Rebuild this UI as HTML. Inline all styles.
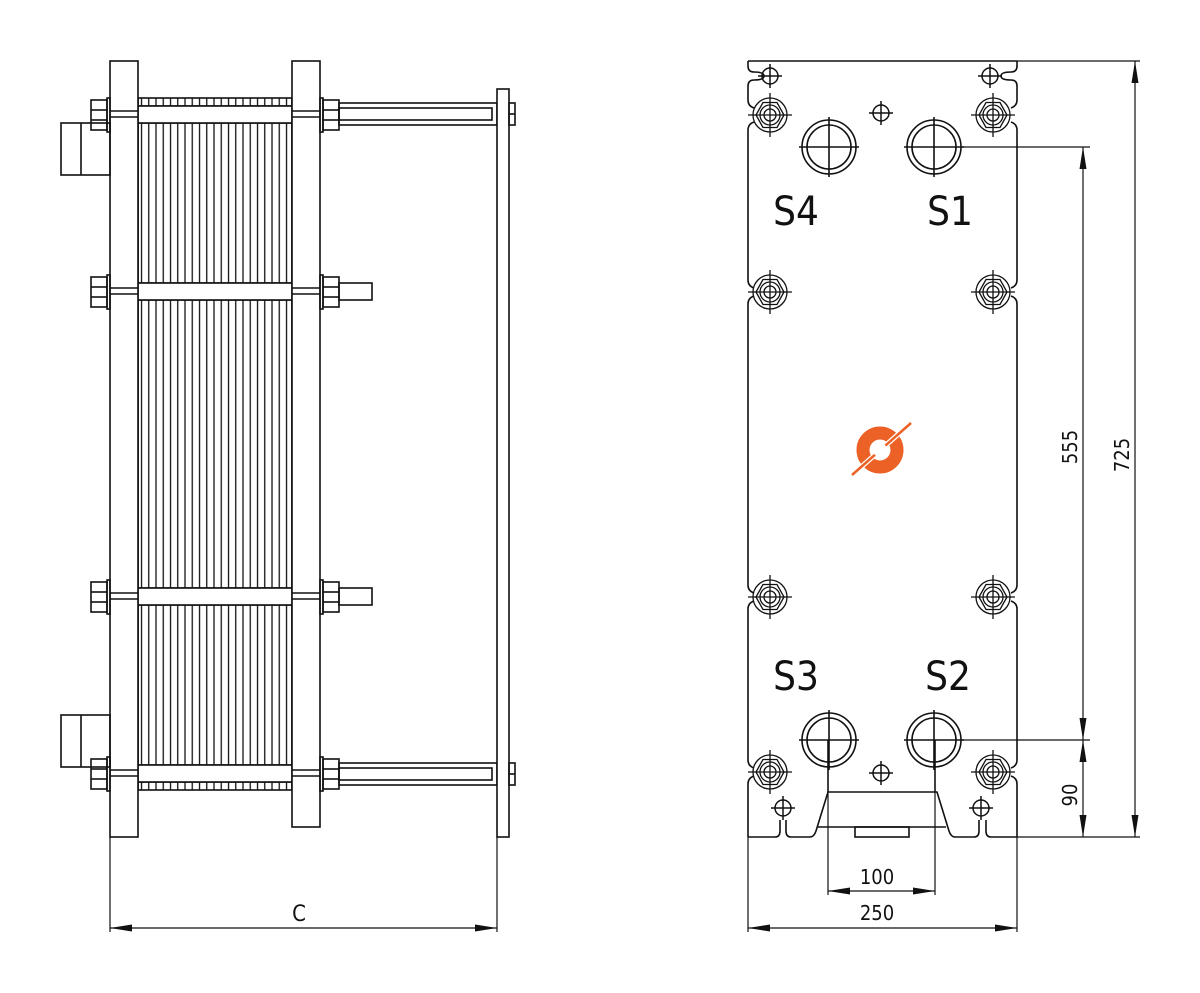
<!DOCTYPE html>
<html><head><meta charset="utf-8"><style>
html,body{margin:0;padding:0;background:#fff;}
svg{display:block;}
text{font-family:"DejaVu Sans Condensed","Liberation Sans Narrow","Liberation Sans",sans-serif;fill:#111;}
</style></head><body>
<svg width="1200" height="993" viewBox="0 0 1200 993" xmlns="http://www.w3.org/2000/svg">
<defs>
<marker id="ar" viewBox="0 0 22 7" refX="22" refY="3.5" markerWidth="22" markerHeight="7" markerUnits="userSpaceOnUse" orient="auto-start-reverse"><path d="M0,0 L22,3.5 L0,7 z" fill="#111"/></marker>
<pattern id="pl" x="138" y="0" width="7.25" height="10" patternUnits="userSpaceOnUse"><line x1="3.5" y1="0" x2="3.5" y2="10" stroke="#111" stroke-width="1.3"/></pattern>
<g id="bolt" fill="none" stroke="#111" stroke-width="1.3">
<polygon points="14,0 7,12.5 -7,12.5 -14,0 -7,-12.5 7,-12.5"/>
<circle r="17"/><circle r="10"/><circle r="6"/>
<line x1="-22" y1="0" x2="22" y2="0"/><line x1="0" y1="-22" x2="0" y2="22"/>
</g>
<g id="port" fill="none" stroke="#111" stroke-width="1.6">
<circle r="27"/><circle r="22"/>
<line x1="-30" y1="0" x2="30" y2="0"/><line x1="0" y1="-30" x2="0" y2="30"/>
</g>
<g id="hole" fill="none" stroke="#111" stroke-width="1.5">
<circle r="8"/><line x1="-12" y1="0" x2="12" y2="0"/><line x1="0" y1="-12" x2="0" y2="12"/>
</g>
<g id="lnut" fill="none" stroke="#111" stroke-width="1.6">
<rect x="91" y="0" width="16" height="30"/><line x1="91" y1="10" x2="107" y2="10"/><line x1="91" y1="20" x2="107" y2="20"/><rect x="107" y="-2" width="3" height="34"/>
</g>
<g id="rnut" fill="none" stroke="#111" stroke-width="1.6">
<rect x="320" y="-2" width="3" height="34"/><rect x="323" y="0" width="16" height="30"/><line x1="323" y1="10" x2="339" y2="10"/><line x1="323" y1="20" x2="339" y2="20"/>
</g>
</defs>

<g fill="none" stroke="#111" stroke-width="1.6">
<rect x="138" y="123" width="154" height="160" fill="url(#pl)"/>
<rect x="138" y="300" width="154" height="288" fill="url(#pl)"/>
<rect x="138" y="605" width="154" height="160" fill="url(#pl)"/>
<rect x="138" y="98" width="154" height="8" fill="url(#pl)"/>
<rect x="138" y="782" width="154" height="8" fill="url(#pl)"/>
<line x1="138" y1="98" x2="138" y2="790"/><line x1="292" y1="98" x2="292" y2="790"/>
<rect x="138" y="106" width="154" height="17" fill="#fff"/>
<rect x="138" y="283" width="154" height="17" fill="#fff"/>
<rect x="138" y="588" width="154" height="17" fill="#fff"/>
<rect x="138" y="765" width="154" height="17" fill="#fff"/>
<rect x="110" y="61" width="28" height="776" fill="#fff"/>
<rect x="292" y="61" width="28" height="766" fill="#fff"/>
<g stroke-width="1.4">
<line x1="110" y1="111" x2="138" y2="111"/><line x1="110" y1="117" x2="138" y2="117"/>
<line x1="292" y1="111" x2="320" y2="111"/><line x1="292" y1="117" x2="320" y2="117"/>
<line x1="110" y1="288" x2="138" y2="288"/><line x1="110" y1="294" x2="138" y2="294"/>
<line x1="292" y1="288" x2="320" y2="288"/><line x1="292" y1="294" x2="320" y2="294"/>
<line x1="110" y1="593" x2="138" y2="593"/><line x1="110" y1="599" x2="138" y2="599"/>
<line x1="292" y1="593" x2="320" y2="593"/><line x1="292" y1="599" x2="320" y2="599"/>
<line x1="110" y1="770" x2="138" y2="770"/><line x1="110" y1="776" x2="138" y2="776"/>
<line x1="292" y1="770" x2="320" y2="770"/><line x1="292" y1="776" x2="320" y2="776"/>
</g>
<rect x="61" y="123" width="49" height="52"/><line x1="81" y1="123" x2="81" y2="175"/>
<rect x="61" y="715" width="49" height="52"/><line x1="81" y1="715" x2="81" y2="767"/>
<use href="#lnut" y="100"/><use href="#lnut" y="277"/><use href="#lnut" y="582"/><use href="#lnut" y="759"/>
<use href="#rnut" y="100"/><use href="#rnut" y="277"/><use href="#rnut" y="582"/><use href="#rnut" y="759"/>
<rect x="339" y="103" width="158" height="22"/><rect x="339" y="108" width="153" height="12"/>
<rect x="339" y="763" width="158" height="22"/><rect x="339" y="768" width="153" height="12"/>
<rect x="339" y="283" width="33" height="17"/><rect x="339" y="588" width="33" height="17"/>
<rect x="497" y="89" width="12" height="748" fill="#fff"/>
<rect x="509" y="103" width="6" height="22"/><line x1="509" y1="114" x2="515" y2="114"/>
<rect x="509" y="763" width="6" height="22"/><line x1="509" y1="774" x2="515" y2="774"/>
</g>

<g stroke="#111" stroke-width="1.2" fill="none">
<line x1="110" y1="837" x2="110" y2="932"/><line x1="497" y1="837" x2="497" y2="932"/>
<line x1="110" y1="928" x2="497" y2="928" marker-start="url(#ar)" marker-end="url(#ar)"/>
</g>
<text x="299" y="921" font-size="22" text-anchor="middle">C</text>

<g fill="none" stroke="#111" stroke-width="1.6">
<line x1="748" y1="61" x2="1017" y2="61"/>
<path d="M748,61 V66 q0,6 6,6 q10,0 10,4 q0,4 -10,4 q-6,0 -6,6 V100 q0,6 6,8"/>
<path d="M754,122 q-6,2 -6,8 V280 q0,6 6,8"/>
<path d="M754,296 q-6,2 -6,8 V585 q0,6 6,8"/>
<path d="M754,601 q-6,2 -6,8 V760 q0,6 6,8"/>
<path d="M754,776 q-6,2 -6,8 V837"/>
<path d="M1011,776 q6,2 6,8 V837"/>
<path d="M1017,61 V66 q0,6 -6,6 q-10,0 -10,4 q0,4 10,4 q6,0 6,6 V100 q0,6 -6,8"/>
<path d="M1011,122 q6,2 6,8 V280 q0,6 -6,8"/>
<path d="M1011,296 q6,2 6,8 V585 q0,6 -6,8"/>
<path d="M1011,601 q6,2 6,8 V760 q0,6 -6,8"/>
<path d="M748,837 H775 q5,0 5,-6 V820 M786,820 V831 q0,6 5,6 H810 q4,0 6,-6 L828,792 H937 L949,831 q2,6 6,6 H974 q5,0 5,-6 V820 M986,820 V831 q0,6 5,6 H1017"/>
<line x1="818" y1="827" x2="946" y2="827"/>
<rect x="855" y="827" width="54" height="10"/>
<line x1="828" y1="740" x2="828" y2="792"/><line x1="935" y1="740" x2="935" y2="792"/>
</g>
<g>
<use href="#bolt" x="770" y="115"/><use href="#bolt" x="993" y="115"/>
<use href="#bolt" x="770" y="292"/><use href="#bolt" x="993" y="292"/>
<use href="#bolt" x="770" y="597"/><use href="#bolt" x="993" y="597"/>
<use href="#bolt" x="770" y="772"/><use href="#bolt" x="993" y="772"/>
<use href="#port" x="829" y="147"/><use href="#port" x="934" y="147"/>
<use href="#port" x="829" y="740"/><use href="#port" x="934" y="740"/>
<use href="#hole" x="881" y="113"/><use href="#hole" x="881" y="773"/>
<use href="#hole" x="770" y="76"/><use href="#hole" x="990" y="76"/>
<use href="#hole" x="783" y="808"/><use href="#hole" x="981" y="808"/>
</g>
<text x="796" y="225" font-size="40" text-anchor="middle">S4</text>
<text x="950" y="225" font-size="40" text-anchor="middle">S1</text>
<text x="796" y="690" font-size="40" text-anchor="middle">S3</text>
<text x="948" y="690" font-size="40" text-anchor="middle">S2</text>

<g transform="translate(880,450)">
<circle r="17" fill="none" stroke="#ec6125" stroke-width="13"/>
<line x1="-28" y1="25" x2="31" y2="-27" stroke="#fff" stroke-width="5"/>
<line x1="-28" y1="25" x2="31" y2="-27" stroke="#ec6125" stroke-width="2.5"/>
<circle r="7" fill="#fff"/>
</g>

<g stroke="#111" stroke-width="1.2" fill="none">
<line x1="961" y1="147" x2="1090" y2="147"/>
<line x1="961" y1="740" x2="1090" y2="740"/>
<line x1="1017" y1="61" x2="1140" y2="61"/>
<line x1="1017" y1="837" x2="1140" y2="837"/>
<line x1="1083" y1="147" x2="1083" y2="740" marker-start="url(#ar)" marker-end="url(#ar)"/>
<line x1="1083" y1="740" x2="1083" y2="837" marker-start="url(#ar)" marker-end="url(#ar)"/>
<line x1="1135" y1="61" x2="1135" y2="837" marker-start="url(#ar)" marker-end="url(#ar)"/>
<line x1="828" y1="792" x2="828" y2="895"/><line x1="935" y1="792" x2="935" y2="895"/>
<line x1="828" y1="891" x2="935" y2="891" marker-start="url(#ar)" marker-end="url(#ar)"/>
<line x1="748" y1="837" x2="748" y2="932"/><line x1="1017" y1="837" x2="1017" y2="932"/>
<line x1="748" y1="928" x2="1017" y2="928" marker-start="url(#ar)" marker-end="url(#ar)"/>
</g>
<text x="877" y="884" font-size="20" text-anchor="middle">100</text>
<text x="877" y="920" font-size="20" text-anchor="middle">250</text>
<text transform="translate(1077,447) rotate(-90)" font-size="20" text-anchor="middle">555</text>
<text transform="translate(1129,455) rotate(-90)" font-size="20" text-anchor="middle">725</text>
<text transform="translate(1077,795) rotate(-90)" font-size="20" text-anchor="middle">90</text>
</svg>
</body></html>
